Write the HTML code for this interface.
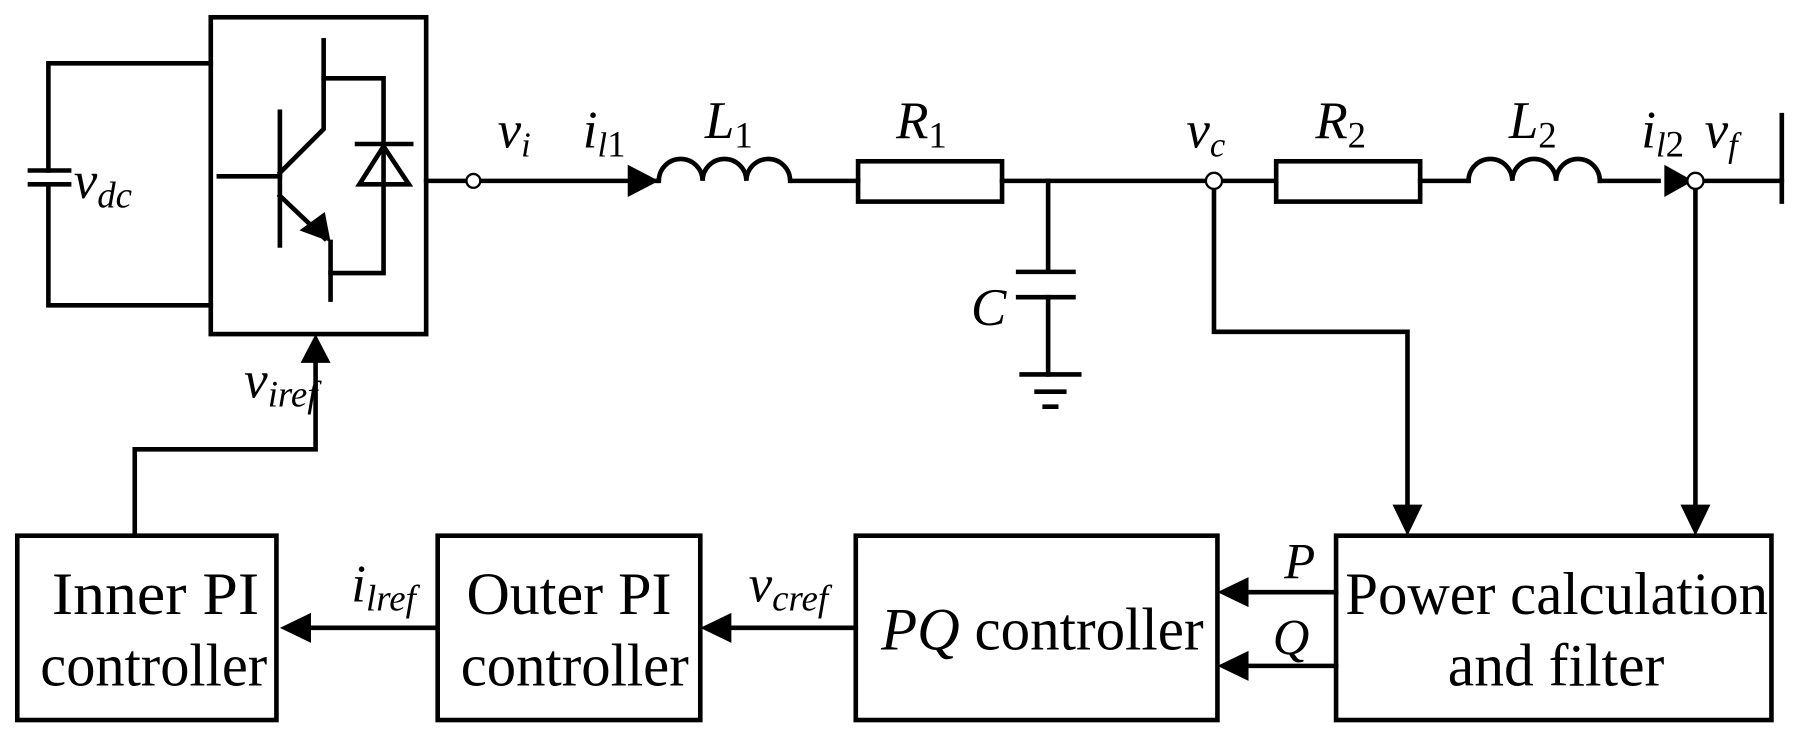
<!DOCTYPE html>
<html><head><meta charset="utf-8"><style>
html,body{margin:0;padding:0;background:#fff;}
svg{display:block;}
text{font-family:"Liberation Serif",serif;fill:#000;}
.i{font-style:italic;}
</style></head><body>
<svg width="1806" height="735" viewBox="0 0 1568 638" preserveAspectRatio="none" xmlns="http://www.w3.org/2000/svg">
<g stroke="#000" stroke-width="4" fill="none" stroke-linecap="square">
<polyline points="183,55 42,55 42,148"/>
<polyline points="42,160 42,265 183,265"/>
<line x1="26" y1="148" x2="60" y2="148"/>
<line x1="26" y1="160" x2="60" y2="160"/>
<rect x="183" y="15" width="187" height="275"/>
<line x1="190" y1="153" x2="243" y2="153"/>
<line x1="243" y1="97" x2="243" y2="213"/>
<polyline points="243,150 281,112 281,35"/>
<polyline points="281,68 333,68 333,237 287,237"/>
<line x1="287" y1="210" x2="287" y2="260"/>
<line x1="243" y1="170" x2="282" y2="207"/>
<line x1="310" y1="125" x2="357" y2="125"/>
<polygon points="333,127 312,160 355,160"/>
<line x1="370" y1="157" x2="405" y2="157"/>
<line x1="417" y1="157" x2="570" y2="157"/>
<path d="M572,157 a19,19 0 0 1 38,0 a19,19 0 0 1 38,0 a19,19 0 0 1 38,0"/>
<line x1="688" y1="157" x2="745" y2="157"/>
<rect x="745" y="140" width="125" height="35"/>
<line x1="870" y1="157" x2="1048" y2="157"/>
<line x1="910" y1="157" x2="910" y2="235"/>
<line x1="884" y1="236" x2="932" y2="236"/>
<line x1="884" y1="258" x2="932" y2="258"/>
<line x1="910" y1="258" x2="910" y2="325"/>
<line x1="887" y1="325" x2="937" y2="325"/>
<line x1="900" y1="340" x2="924" y2="340"/>
<line x1="907" y1="353" x2="917" y2="353"/>
<line x1="1060" y1="157" x2="1108" y2="157"/>
<rect x="1108" y="140" width="125" height="35"/>
<line x1="1233" y1="157" x2="1275" y2="157"/>
<path d="M1275,157 a19,19 0 0 1 38,0 a19,19 0 0 1 38,0 a19,19 0 0 1 38,0"/>
<line x1="1389" y1="157" x2="1440" y2="157"/>
<line x1="1478" y1="157" x2="1547" y2="157"/>
<line x1="1547" y1="100" x2="1547" y2="175"/>
<polyline points="1054,163 1054,288 1222,288 1222,440"/>
<line x1="1472" y1="163" x2="1472" y2="440"/>
<rect x="15" y="465" width="225" height="160"/>
<rect x="380" y="465" width="228" height="160"/>
<rect x="743" y="465" width="314" height="160"/>
<rect x="1160" y="465" width="378" height="160"/>
<polyline points="117,465 117,390 274,390 274,310"/>
<line x1="380" y1="545" x2="270" y2="545"/>
<line x1="743" y1="545" x2="633" y2="545"/>
<line x1="1160" y1="514" x2="1082" y2="514"/>
<line x1="1160" y1="578" x2="1082" y2="578"/>
</g>
<g fill="#000">
<polygon points="545,143 545,171 572,157"/>
<polygon points="1445,143 1445,171 1470,157"/>
<polygon points="274,290 261,315 287,315"/>
<polygon points="1222,465 1209,438 1235,438"/>
<polygon points="1472,465 1459,438 1485,438"/>
<polygon points="243,545 270,532 270,558"/>
<polygon points="608,545 635,532 635,558"/>
<polygon points="1057,514 1084,501 1084,527"/>
<polygon points="1057,578 1084,565 1084,591"/>
<polygon points="287,210 260,200 282,184"/>
</g>
<g fill="#fff" stroke="#000" stroke-width="2">
<circle cx="411" cy="157" r="6"/>
<circle cx="1054" cy="157" r="7"/>
<circle cx="1472" cy="157" r="7"/>
</g>
<text class="i" x="64" y="172" font-size="46">v<tspan font-size="32" dy="8">dc</tspan></text>
<text class="i" x="432" y="128" font-size="46">v<tspan font-size="30" dy="8">i</tspan></text>
<text class="i" x="506" y="128" font-size="46">i<tspan font-size="30" dy="8">l</tspan><tspan font-style="normal" font-size="32">1</tspan></text>
<text class="i" x="612" y="120" font-size="46">L<tspan font-style="normal" font-size="32" dy="8">1</tspan></text>
<text class="i" x="778" y="120" font-size="46">R<tspan font-style="normal" font-size="32" dy="8">1</tspan></text>
<text class="i" x="843" y="282" font-size="46">C</text>
<text class="i" x="1030" y="128" font-size="46">v<tspan font-size="30" dy="8">c</tspan></text>
<text class="i" x="1142" y="120" font-size="46">R<tspan font-style="normal" font-size="32" dy="8">2</tspan></text>
<text class="i" x="1310" y="120" font-size="46">L<tspan font-style="normal" font-size="32" dy="8">2</tspan></text>
<text class="i" x="1425" y="128" font-size="46">i<tspan font-size="30" dy="8">l</tspan><tspan font-style="normal" font-size="32">2</tspan></text>
<text class="i" x="1480" y="128" font-size="46">v<tspan font-size="30" dy="8">f</tspan></text>
<text class="i" x="212" y="345" font-size="46">v<tspan font-size="32" dy="8">iref</tspan></text>
<text class="i" x="305" y="522" font-size="46">i<tspan font-size="32" dy="8">lref</tspan></text>
<text class="i" x="650" y="522" font-size="46">v<tspan font-size="32" dy="8">cref</tspan></text>
<text class="i" x="1115" y="502" font-size="44">P</text>
<text class="i" x="1105" y="568" font-size="44">Q</text>
<g font-size="52">
<text x="45" y="533" textLength="180" lengthAdjust="spacingAndGlyphs">Inner PI</text>
<text x="35" y="595" textLength="197" lengthAdjust="spacingAndGlyphs">controller</text>
<text x="405" y="533" textLength="178" lengthAdjust="spacingAndGlyphs">Outer PI</text>
<text x="400" y="595" textLength="198" lengthAdjust="spacingAndGlyphs">controller</text>
<text x="765" y="564" textLength="280" lengthAdjust="spacingAndGlyphs"><tspan font-style="italic">PQ</tspan> controller</text>
<text x="1168" y="533" textLength="367" lengthAdjust="spacingAndGlyphs">Power calculation</text>
<text x="1257" y="595" textLength="188" lengthAdjust="spacingAndGlyphs">and filter</text>
</g>
</svg>
</body></html>
